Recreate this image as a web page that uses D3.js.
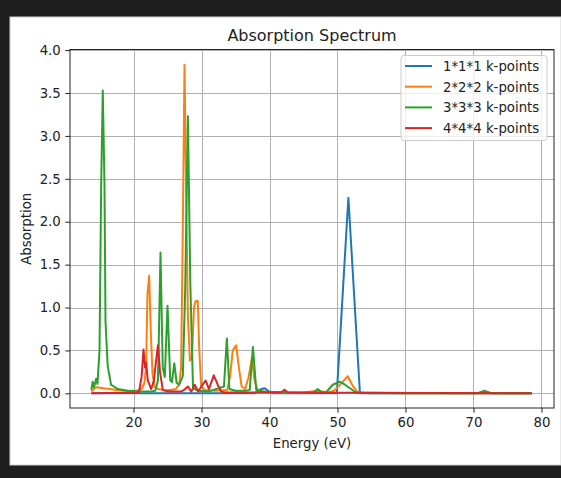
<!DOCTYPE html>
<html><head><meta charset="utf-8">
<script src="https://cdn.jsdelivr.net/npm/d3@7"></script>
<style>html,body{margin:0;padding:0;background:#1e1e1e;}svg{display:block;}</style>
</head><body>
<script>
const seriesNames = ["1*1*1 k-points","2*2*2 k-points","3*3*3 k-points","4*4*4 k-points"];
const xTicks = [20,30,40,50,60,70,80];
const yTicks = [0.0,0.5,1.0,1.5,2.0,2.5,3.0,3.5,4.0];

const e111 = [13.8, 37.8, 38.3, 38.8, 39.3, 39.8, 40.4, 49.9, 51.6, 53.3, 78.6];
const a111 = [0.0, 0.0, 0.03, 0.05, 0.06, 0.03, 0.0, 0.0, 2.28, 0.0, 0.0];

const e222 = [13.8, 14.3, 14.6, 15.5, 16.5, 17.5, 19.0, 20.5, 21.2, 21.6, 21.85, 22.05, 22.3, 22.55, 22.8, 23.1, 23.6, 24.5, 25.5, 26.2, 26.7, 27.0, 27.25, 27.5, 27.75, 28.0, 28.3, 28.6, 28.9, 29.1, 29.45, 29.65, 29.95, 30.5, 32.0, 33.8, 34.2, 34.6, 35.1, 35.5, 35.9, 36.4, 36.9, 37.4, 37.8, 38.3, 40.0, 45.0, 47.1, 48.5, 49.5, 50.5, 51.5, 52.3, 53.0, 60.0, 78.6];
const a222 = [0.02, 0.06, 0.07, 0.06, 0.05, 0.04, 0.03, 0.03, 0.05, 0.12, 0.3, 1.15, 1.37, 0.7, 0.22, 0.08, 0.05, 0.04, 0.04, 0.05, 0.1, 0.3, 1.9, 3.83, 2.3, 0.9, 0.38, 0.42, 1.0, 1.07, 1.08, 0.55, 0.08, 0.04, 0.03, 0.04, 0.2, 0.5, 0.56, 0.3, 0.08, 0.05, 0.18, 0.41, 0.15, 0.03, 0.01, 0.01, 0.03, 0.01, 0.03, 0.11, 0.2, 0.08, 0.01, 0.0, 0.0];

const e333 = [13.8, 14.0, 14.2, 14.5, 14.7, 15.0, 15.25, 15.48, 15.73, 15.88, 16.2, 16.7, 17.7, 19.1, 21.0, 22.5, 23.2, 23.6, 23.97, 24.3, 24.6, 25.0, 25.4, 25.65, 26.0, 26.35, 26.7, 27.25, 27.6, 28.0, 28.35, 28.75, 29.5, 31.0, 33.3, 33.73, 34.1, 35.0, 36.5, 37.1, 37.56, 38.05, 39.0, 42.0, 46.5, 47.1, 47.7, 48.4, 49.3, 50.3, 51.1, 52.0, 52.7, 55.0, 70.5, 71.6, 72.7, 78.6];
const a333 = [0.04, 0.135, 0.07, 0.17, 0.11, 0.5, 2.45, 3.53, 2.45, 0.84, 0.32, 0.1, 0.05, 0.03, 0.02, 0.02, 0.03, 0.15, 1.64, 0.3, 0.19, 1.02, 0.155, 0.13, 0.35, 0.12, 0.1, 0.2, 1.2, 3.23, 1.3, 0.06, 0.03, 0.02, 0.08, 0.64, 0.05, 0.03, 0.03, 0.04, 0.54, 0.04, 0.02, 0.01, 0.01, 0.05, 0.01, 0.02, 0.1, 0.135, 0.1, 0.05, 0.01, 0.0, 0.0, 0.03, 0.0, 0.0];

const e444 = [13.8, 20.8, 21.2, 21.47, 21.7, 21.86, 22.1, 22.6, 23.0, 23.35, 23.6, 23.9, 24.3, 25.0, 27.0, 27.6, 28.0, 28.5, 29.0, 29.5, 30.0, 30.6, 31.1, 31.8, 32.4, 32.9, 33.5, 41.7, 42.2, 42.7, 78.6];
const a444 = [0.0, 0.01, 0.2, 0.51, 0.3, 0.36, 0.15, 0.05, 0.15, 0.4, 0.56, 0.25, 0.04, 0.02, 0.02, 0.05, 0.08, 0.02, 0.1, 0.02, 0.08, 0.15, 0.05, 0.21, 0.1, 0.02, 0.01, 0.01, 0.04, 0.01, 0.0];

const colors = ["#1f77b4","#ff7f0e","#2ca02c","#d62728"];
const series = [[e111,a111],[e222,a222],[e333,a333],[e444,a444]].map((s,i)=>({name:seriesNames[i],color:colors[i],pts:s[0].map((e,j)=>[e,s[1][j]])}));

const W=561,H=478;
const L=70,R=554,T=49.5,B=408;
const svg=d3.select("body").append("svg").attr("width",W).attr("height",H);
svg.append("rect").attr("x",0).attr("y",0).attr("width",W).attr("height",H).attr("fill","#1e1e1e");
svg.append("rect").attr("x",10).attr("y",17).attr("width",W-10).attr("height",448).attr("fill","#ffffff").attr("stroke","#d0d0d0").attr("stroke-width",1);

const x=d3.scaleLinear().domain([10.66,81.84]).range([L,R]);
const y=d3.scaleLinear().domain([-0.171,4.007]).range([B,T]);
const font="DejaVu Sans, sans-serif";

// grid
const g=svg.append("g");
g.selectAll(".gx").data(xTicks).enter().append("line")
 .attr("x1",d=>Math.round(x(d))+0.5).attr("x2",d=>Math.round(x(d))+0.5).attr("y1",T).attr("y2",B)
 .attr("stroke","#b0b0b0").attr("stroke-width",1);
g.selectAll(".gy").data(yTicks).enter().append("line")
 .attr("y1",d=>Math.round(y(d))+0.5).attr("y2",d=>Math.round(y(d))+0.5).attr("x1",L).attr("x2",R)
 .attr("stroke","#b0b0b0").attr("stroke-width",1);

// lines
const line=d3.line().x(d=>x(d[0])).y(d=>y(d[1]));
svg.append("clipPath").attr("id","c").append("rect").attr("x",L).attr("y",T).attr("width",R-L).attr("height",B-T);
series.forEach(s=>{
  svg.append("path").attr("d",line(s.pts)).attr("fill","none").attr("stroke",s.color)
   .attr("stroke-width",2).attr("stroke-linejoin","round").attr("clip-path","url(#c)");
});

// axes
const xa=d3.axisBottom(x).tickValues(xTicks).tickFormat(d3.format("d")).tickSize(4.7).tickPadding(4.5);
const ya=d3.axisLeft(y).tickValues(yTicks).tickFormat(d3.format(".1f")).tickSize(4.7).tickPadding(4.5);
const gx=svg.append("g").attr("transform",`translate(0,${B})`).call(xa);
const gy=svg.append("g").attr("transform",`translate(${L},0)`).call(ya);
[gx,gy].forEach(a=>{a.select(".domain").remove();a.selectAll("text").attr("font-family",font).attr("font-size","13.3px").attr("fill","#222");a.selectAll("line").attr("stroke","#222").attr("stroke-width",1);});

svg.append("rect").attr("x",L).attr("y",T).attr("width",R-L).attr("height",B-T).attr("fill","none").attr("stroke","#222").attr("stroke-width",1);

svg.append("text").attr("x",(L+R)/2).attr("y",T-9).attr("text-anchor","middle").attr("font-family",font).attr("font-size","16px").attr("fill","#222").text("Absorption Spectrum");
svg.append("text").attr("x",(L+R)/2).attr("y",448).attr("text-anchor","middle").attr("font-family",font).attr("font-size","13.3px").attr("fill","#222").text("Energy (eV)");
svg.append("text").attr("transform",`translate(31,${(T+B)/2}) rotate(-90)`).attr("text-anchor","middle").attr("font-family",font).attr("font-size","13.3px").attr("fill","#222").text("Absorption");

// legend
const lg=svg.append("g");
lg.append("rect").attr("x",401).attr("y",55.5).attr("width",146).attr("height",85).attr("rx",3).attr("fill","#fff").attr("fill-opacity",0.8).attr("stroke","#cccccc").attr("stroke-width",1);
series.forEach((s,i)=>{
  const yy=66+i*20.7;
  lg.append("line").attr("x1",405).attr("x2",432).attr("y1",yy).attr("y2",yy).attr("stroke",s.color).attr("stroke-width",2);
  lg.append("text").attr("x",443).attr("y",yy+4.8).attr("font-family",font).attr("font-size","13.3px").attr("fill","#222").text(s.name);
});
</script>
</body></html>
